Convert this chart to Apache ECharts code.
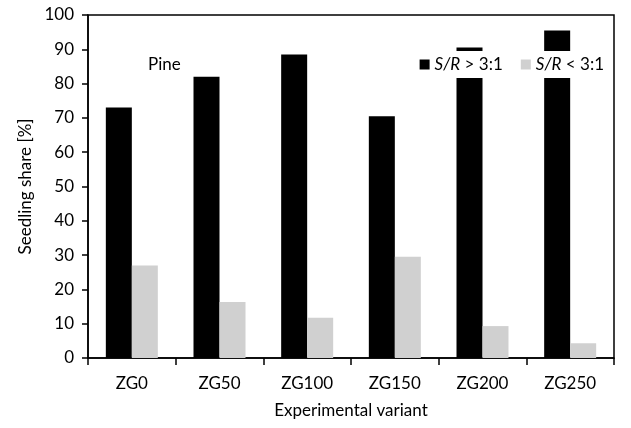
<!DOCTYPE html>
<html><head><meta charset="utf-8">
<script src="https://cdn.jsdelivr.net/npm/echarts@6/dist/echarts.min.js"></script>
<style>html,body{margin:0;padding:0;background:#fff}#c{width:631px;height:428px}</style>
</head><body><div id="c"></div>
<script>
const categories = ['ZG0','ZG50','ZG100','ZG150','ZG200','ZG250'];
const highSR = [73, 82, 88.5, 70.5, 90.5, 95.5];
const lowSR = [27, 16.3, 11.7, 29.5, 9.3, 4.3];
const seriesNames = ['S/R > 3:1', 'S/R < 3:1'];
const FONT = 'Lato';
const FS = 17;
const chart = echarts.init(document.getElementById('c'));
chart.setOption({
  animation: false,
  textStyle: {fontFamily: FONT},
  grid: {left: 88, right: 17, top: 15, bottom: 70, show: true, borderColor: '#000', borderWidth: 1.5},
  title: {text: 'Pine', left: 148, top: 56, padding: 0, textStyle: {fontFamily: FONT, fontSize: FS, fontWeight: 'normal', color: '#000'}},
  legend: {
    right: 24, top: 51, itemWidth: 10, itemHeight: 10, itemGap: 18,
    backgroundColor: '#fff', padding: [5, 3, 5, 3],
    icon: 'rect',
    data: seriesNames,
    formatter: function (n) { return n === seriesNames[0] ? '{i|S/R} {t|> 3:1}' : '{i|S/R} {t|< 3:1}'; },
    textStyle: {fontFamily: FONT, fontSize: FS, color: '#000',
      rich: {i: {fontStyle: 'italic', fontSize: FS, fontFamily: FONT}, t: {fontSize: FS, fontFamily: FONT}}}
  },
  xAxis: {
    type: 'category', data: categories,
    name: 'Experimental variant', nameLocation: 'middle', nameGap: 44,
    nameTextStyle: {fontFamily: FONT, fontSize: FS, color: '#000'},
    axisLine: {lineStyle: {color: '#000', width: 1.5}},
    axisTick: {show: true, length: 7, lineStyle: {color: '#000', width: 1.5}},
    axisLabel: {fontFamily: FONT, fontSize: FS, color: '#000', margin: 17}
  },
  yAxis: {
    type: 'value', min: 0, max: 100, interval: 10,
    name: 'Seedling share [%]', nameLocation: 'middle', nameGap: 52,
    nameTextStyle: {fontFamily: FONT, fontSize: FS, color: '#000'},
    axisLine: {show: true, lineStyle: {color: '#000', width: 1.5}},
    axisTick: {show: true, length: 6, lineStyle: {color: '#000', width: 1.5}},
    axisLabel: {fontFamily: FONT, fontSize: FS, color: '#000', margin: 14},
    splitLine: {show: false}
  },
  series: [
    {name: seriesNames[0], type: 'bar', data: highSR, barWidth: 26, barGap: '0%', itemStyle: {color: '#000'}},
    {name: seriesNames[1], type: 'bar', data: lowSR, barWidth: 26, barGap: '0%', itemStyle: {color: '#d0d0d0'}}
  ]
});
</script></body></html>
